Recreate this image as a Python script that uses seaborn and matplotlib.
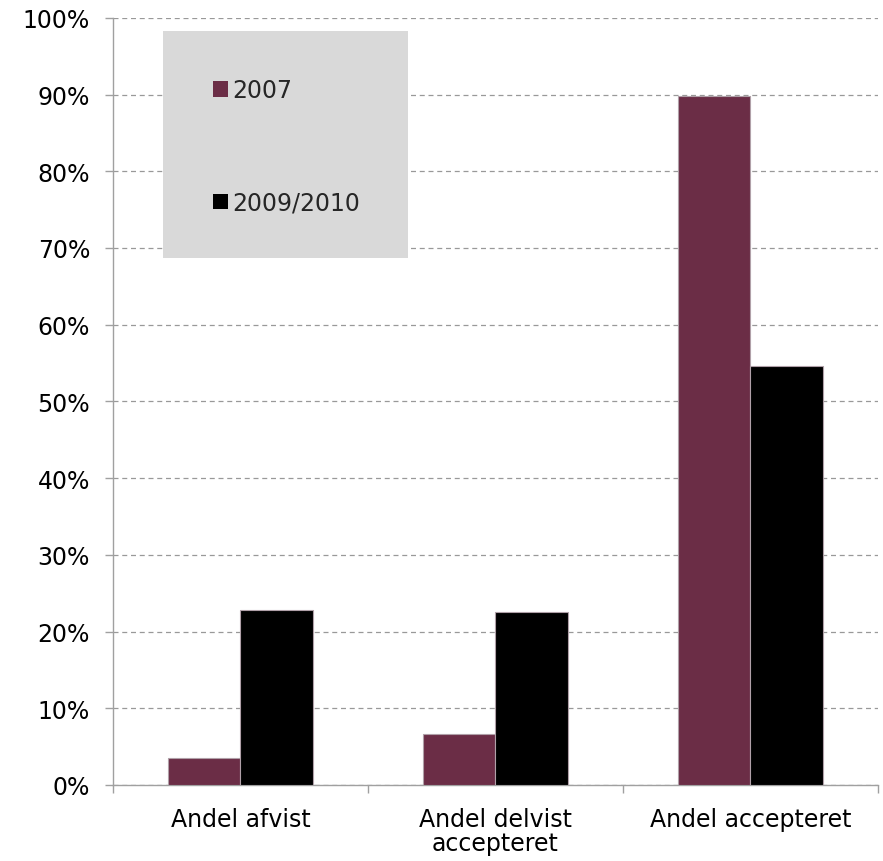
import matplotlib
matplotlib.use("Agg")
import matplotlib.pyplot as plt
import seaborn as sns
import pandas as pd
from matplotlib.patches import Rectangle, Patch
from matplotlib.ticker import PercentFormatter

categories = ["Andel afvist", "Andel delvist\naccepteret", "Andel accepteret"]
series_names = ["2007", "2009/2010"]
values_2007 = [3.5, 6.6, 89.8]
values_2009_2010 = [22.8, 22.5, 54.6]
colors = ["#6b2d46", "#000000"]

df = pd.DataFrame({
    "kategori": categories * 2,
    "periode": [series_names[0]] * 3 + [series_names[1]] * 3,
    "andel": values_2007 + values_2009_2010,
})

sns.set_theme(style="white")
plt.rcParams["font.family"] = ["DejaVu Sans"]

FS = 17

fig = plt.figure(figsize=(8.83, 8.62), dpi=100)
ax = fig.add_axes([0.128, 0.0882, 0.866, 0.890])

sns.barplot(data=df, x="kategori", y="andel", hue="periode", palette=colors,
            saturation=1, width=0.57, edgecolor="#b0a0a8", linewidth=0.8,
            ax=ax, legend=False, zorder=3)

ax.set_ylim(0, 100)
ax.set_xlim(-0.5, 2.5)
ax.set_yticks(range(0, 101, 10))
ax.yaxis.set_major_formatter(PercentFormatter(decimals=0))
ax.yaxis.grid(True, linestyle=(0, (4, 3)), color="#999999", linewidth=0.9, zorder=0)
ax.set_axisbelow(True)
ax.set_xlabel("")
ax.set_ylabel("")

for side in ["top", "right"]:
    ax.spines[side].set_visible(False)
for side in ["left", "bottom"]:
    ax.spines[side].set_color("#a0a0a0")
    ax.spines[side].set_linewidth(1.0)

ax.tick_params(axis="y", which="major", left=True, length=6, width=1.0,
               color="#a0a0a0", labelsize=FS, labelcolor="#000000", pad=10.5)
ax.set_xticks([-0.5, 0.5, 1.5, 2.5], minor=True)
ax.tick_params(axis="x", which="minor", bottom=True, length=6, width=1.0, color="#a0a0a0")
ax.tick_params(axis="x", which="major", bottom=False, labelsize=FS,
               labelcolor="#000000", pad=10)
for lbl in ax.get_xticklabels():
    lbl.set_linespacing(1.0)

# grey legend panel
ax.add_patch(Rectangle((0.065, 0.687), 0.321, 0.296, transform=ax.transAxes,
                       facecolor="#d9d9d9", edgecolor="none", zorder=5))
handles = [Patch(facecolor=c, edgecolor="none") for c in colors]
leg = ax.legend(handles, series_names, loc="upper left",
                bbox_to_anchor=(0.131, 0.921), frameon=False, fontsize=FS,
                handlelength=0.62, handleheight=0.62, handletextpad=0.2,
                labelspacing=3.75, borderpad=0, borderaxespad=0)
leg.set_zorder(6)

fig.savefig("out.png", dpi=100)
